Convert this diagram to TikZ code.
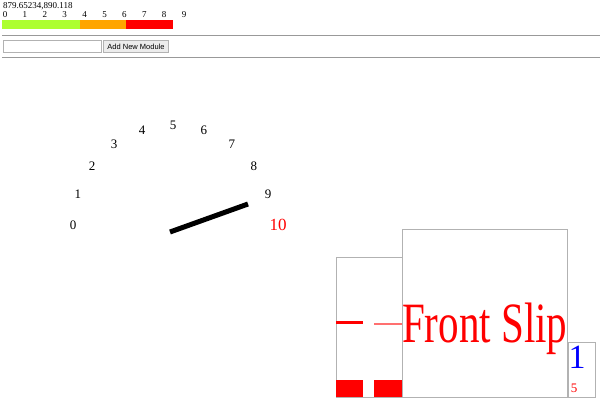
\documentclass[tikz,border=0pt]{standalone}
\usepackage{fontspec}
\setmainfont{Liberation Serif}
\newfontfamily\uifont{Liberation Sans}
\usetikzlibrary{calc}
\definecolor{barGreen}{HTML}{ADFF2F}
\definecolor{barOrange}{HTML}{FFA500}
\definecolor{barRed}{HTML}{FF0000}
\definecolor{lightRed}{HTML}{FF7070}

\begin{document}
\begin{tikzpicture}[x=1pt, y=-1pt, inner sep=0pt, font=\fontsize{9}{9}\selectfont]
	\useasboundingbox (0,0) rectangle (600,400);
      \tikzstyle{rule} = [draw=gray!80, line width=1pt]
      \tikzstyle{frame} = [draw=gray!60, line width=1pt]
      \tikzstyle{dial} = [font=\fontsize{13}{13}\selectfont]
      % reading and scale
      \node (reading) [anchor=base west] at (3,8) {879.65234,890.118};
      \foreach \i in {0,...,9}
        \node (scale\i) [anchor=base] at (5+19.9*\i,17) {\i};
      \fill[barGreen] (2,20) rectangle (80,29);
      \fill[barOrange] (80,20) rectangle (126,29);
      \fill[barRed] (126,20) rectangle (173,29);
      \draw[rule] (2,35) -- (600,35);
      \draw[rule] (2,57) -- (600,57);
      \node (entry) [frame, fill=white, minimum width=98pt, minimum height=12pt, anchor=north west] at (3,40) {};
      \node (addbtn) [frame, fill=gray!15, minimum width=65pt, minimum height=12pt, anchor=north west, font=\uifont\fontsize{7.5}{7.5}\selectfont] at (103,40) {Add New Module};
      % gauge
      \coordinate (gc) at (173,225);
      \foreach \i in {0,...,9}
        \node (dial\i) [dial] at ($(gc)+(180+18*\i:100)$) {\i};
      \node (dial10) [dial, text=red, font=\fontsize{17}{17}\selectfont] at ($(gc)+(0:105)$) {10};
      \coordinate (needlebase) at (170,232);
      \coordinate (needletip) at (248,204);
      \draw[line width=5pt] (needlebase) -- (needletip);
      % slip panel
      \draw[frame] (336,257) rectangle (402,397);
      \draw[frame] (402,229) rectangle (567,397);
      \draw[frame] (568,342) rectangle (595,397);
      \fill[barRed] (336,320.5) rectangle (363,323.5);
      \fill[lightRed] (374,323) rectangle (402,324.5);
      \fill[barRed] (336,380) rectangle (363,397);
      \fill[barRed] (374,380) rectangle (402,397);
      \node (slip) [anchor=base west, text=red, xscale=0.72, font=\fontsize{57}{57}\selectfont] at (402,342) {Front Slip};
      \node (count) [anchor=base, text=blue, font=\fontsize{34}{34}\selectfont] at (577,368) {1};
      \node (level) [anchor=base, text=red, font=\fontsize{13}{13}\selectfont] at (574,392) {5};
    \end{tikzpicture}
\end{document}
